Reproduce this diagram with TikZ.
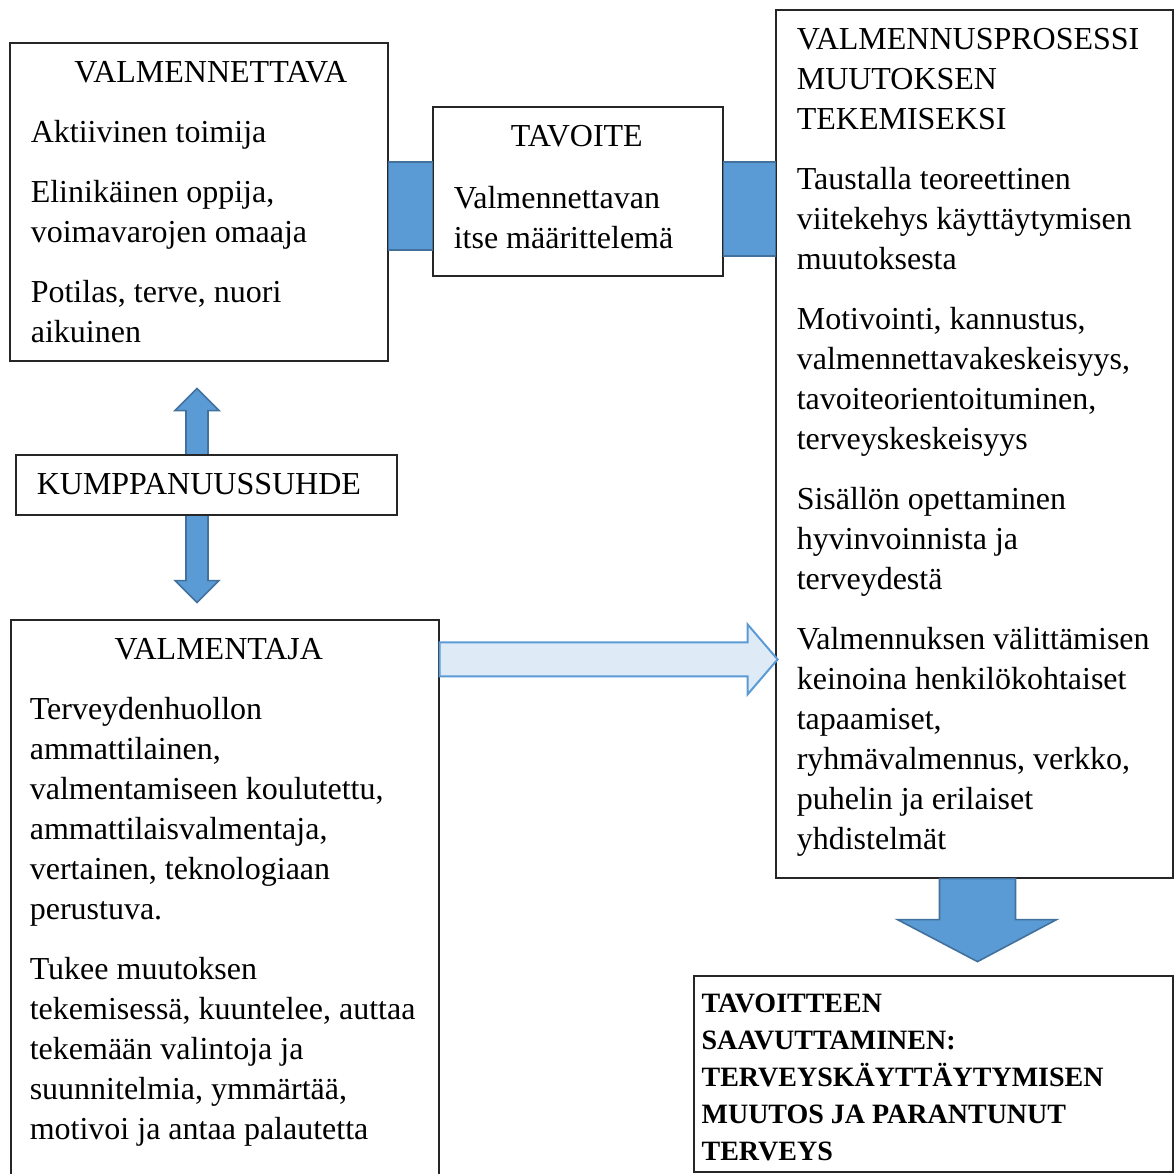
\documentclass[tikz,border=0pt]{standalone}
\usepackage{fontspec}
\setmainfont{Liberation Serif}
\usetikzlibrary{fit}
\definecolor{barblue}{HTML}{5B9BD5}
\definecolor{baredge}{HTML}{41719C}
\definecolor{paleblue}{HTML}{DEEBF7}

\begin{document}
\begin{tikzpicture}[x=0.5pt,y=0.5pt,yscale=-1,
  boxfr/.style={draw=black!85,line width=0.6pt,fill=white,inner sep=0pt},
  txt/.style={anchor=base west,inner sep=0pt,align=flush left,font=\fontsize{16pt}{20pt}\selectfont},
  bar/.style={fill=barblue,draw=baredge,line width=0.8pt},
  pale/.style={fill=paleblue,draw=barblue,line width=1pt}]
\useasboundingbox (0,0) rectangle (1175,1174);

% frames
\node[boxfr,fit={(10,43)(388,361)}] (vtava) {};
\node[boxfr,fit={(433,107)(723,276)}] (tavoite) {};
\node[boxfr,fit={(776,10)(1173,878)}] (prosessi) {};
\node[boxfr,fit={(11,620)(439,1180)}] (valmentaja) {};
\node[boxfr,line width=0.8pt,fit={(694,976)(1173,1172)}] (tulos) {};

% blue links
\draw[bar] (vtava.east |- 0,162) rectangle (tavoite.west |- 0,250);
\draw[bar] (tavoite.east |- 0,162) rectangle (prosessi.west |- 0,256);

\coordinate (kt) at ([shift={(-2,27)}]vtava.south);
\draw[bar] (kt) -- ++(22,22) -- ++(-11,0) -- ++(0,170) -- ++(11,0) -- ++(-22,22)
  -- ++(-22,-22) -- ++(11,0) -- ++(0,-170) -- ++(-11,0) -- cycle;

\draw[pale] ([shift={(0,23)}]valmentaja.north east) -- ++(308,0) -- ++(0,-18)
  -- ++(30,35) -- ++(-30,35) -- ++(0,-18) -- ++(-308,0) -- cycle;

\draw[bar] ([shift={(-35,0)}]prosessi.south) -- ++(76,0) -- ++(0,41) -- ++(41,0)
  -- ++(-79,42) -- ++(-80,-42) -- ++(42,0) -- cycle;

\node[boxfr,fit={(16,455)(397,515)}] (kump) {};

% texts
\node[txt,text width=180pt] (vtavatxt) at ([shift={(21,40)}]vtava.north west)
  {\makebox[\linewidth]{VALMENNETTAVA}\\[10pt]
   Aktiivinen toimija\\[10pt]
   Elinikäinen oppija,\\
   voimavarojen omaaja\\[10pt]
   Potilas, terve, nuori\\
   aikuinen};
\node[txt,text width=123pt] (tavoitetxt) at ([shift={(21,40)}]tavoite.north west)
  {\makebox[\linewidth]{TAVOITE}\\[11pt]
   Valmennettavan\\
   itse määrittelemä};
\node[txt,text width=190pt] (prosessitxt) at ([shift={(21,40)}]prosessi.north west)
  {VALMENNUSPROSESSI\\
   MUUTOKSEN\\
   TEKEMISEKSI\\[10pt]
   Taustalla teoreettinen\\
   viitekehys käyttäytymisen\\
   muutoksesta\\[10pt]
   Motivointi, kannustus,\\
   valmennettavakeskeisyys,\\
   tavoiteorientoituminen,\\
   terveyskeskeisyys\\[10pt]
   Sisällön opettaminen\\
   hyvinvoinnista ja\\
   terveydestä\\[10pt]
   Valmennuksen välittämisen\\
   keinoina henkilökohtaiset\\
   tapaamiset,\\
   ryhmävalmennus, verkko,\\
   puhelin ja erilaiset\\
   yhdistelmät};
\node[txt] (kumptxt) at ([shift={(21,40)}]kump.north west) {KUMPPANUUSSUHDE};
\node[txt,text width=200pt] (valmentajatxt) at ([shift={(19,40)}]valmentaja.north west)
  {\makebox[189pt]{VALMENTAJA}\\[10pt]
   Terveydenhuollon\\
   ammattilainen,\\
   valmentamiseen koulutettu,\\
   ammattilaisvalmentaja,\\
   vertainen, teknologiaan\\
   perustuva.\\[10pt]
   Tukee muutoksen\\
   tekemisessä, kuuntelee, auttaa\\
   tekemään valintoja ja\\
   suunnitelmia, ymmärtää,\\
   motivoi ja antaa palautetta};
\node[txt,text width=230pt,font=\fontsize{14pt}{18.5pt}\selectfont\bfseries] (tulostxt)
  at ([shift={(8,37)}]tulos.north west)
  {TAVOITTEEN\\
   SAAVUTTAMINEN:\\
   TERVEYSKÄYTTÄYTYMISEN\\
   MUUTOS JA PARANTUNUT\\
   TERVEYS};
\end{tikzpicture}
\end{document}
